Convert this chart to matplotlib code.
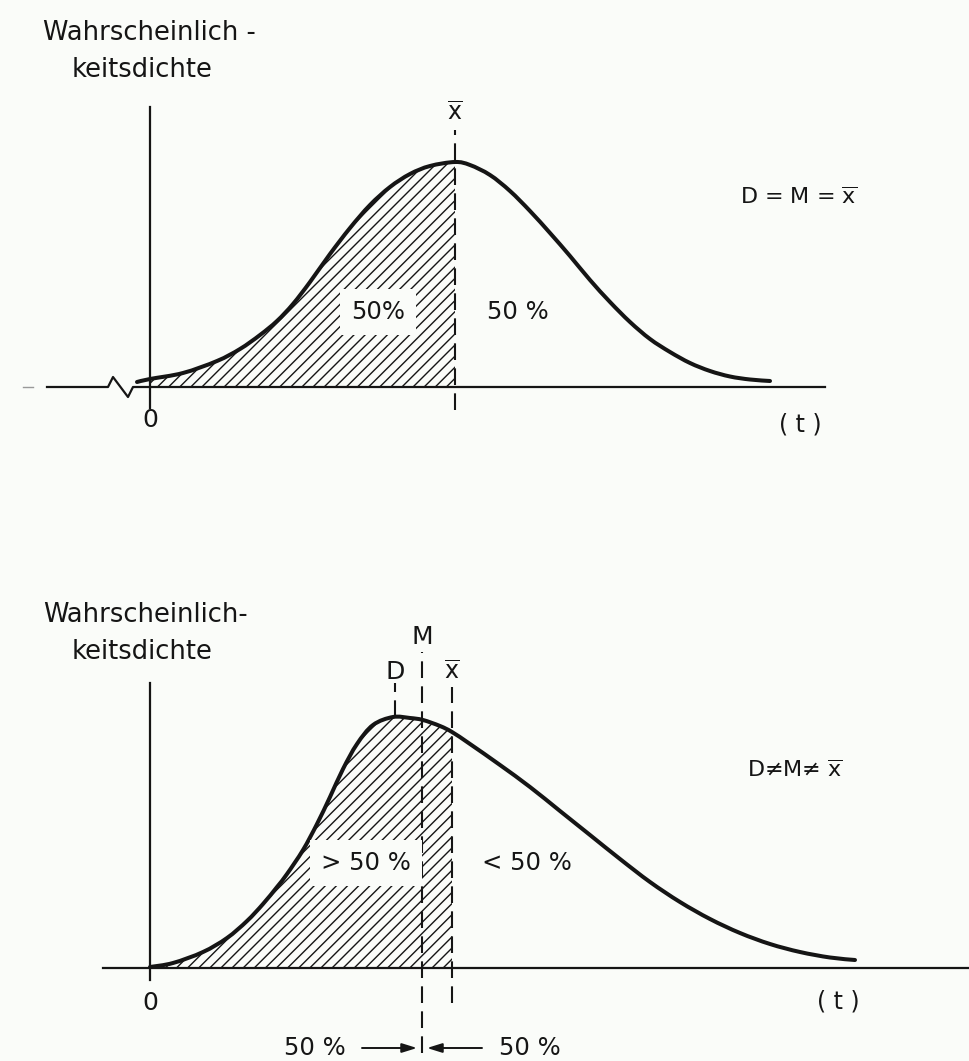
import matplotlib.pyplot as plt
from matplotlib.path import Path
from matplotlib.patches import PathPatch
import numpy as np

# --- Data (t in arbitrary time units, density in arbitrary units) ---
# Top: symmetric distribution, D = M = mean
top_t = [-0.13, 0.0, 0.33, 0.67, 0.90, 1.10, 1.27, 1.43, 1.60, 1.80, 2.00, 2.20, 2.40, 2.60, 2.80, 3.05,
         3.20, 3.40, 3.60, 3.80, 4.00, 4.20, 4.40, 4.60, 4.80, 5.00, 5.20, 5.40, 5.60, 5.80, 6.00, 6.20]
top_f = [0.05, 0.08, 0.14, 0.26, 0.38, 0.52, 0.66, 0.83, 1.05, 1.33, 1.59, 1.82, 2.00, 2.13, 2.21, 2.25,
         2.22, 2.12, 1.96, 1.76, 1.54, 1.31, 1.07, 0.85, 0.65, 0.48, 0.35, 0.24, 0.16, 0.105, 0.075, 0.06]
top_mean = 3.05

# Bottom: right-skewed distribution, D < M < mean
bot_t = [0.0, 0.23, 0.53, 0.77, 0.97, 1.13, 1.27, 1.37, 1.53, 1.67, 1.80, 1.93, 2.07, 2.23, 2.43, 2.60,
         2.73, 2.90, 3.02, 3.20, 3.50, 3.80, 4.10, 4.40, 4.70, 5.00, 5.30, 5.60, 5.90, 6.20, 6.50, 6.80, 7.05]
bot_f = [0.01, 0.05, 0.16, 0.30, 0.47, 0.64, 0.81, 0.94, 1.18, 1.44, 1.71, 1.99, 2.24, 2.43, 2.51, 2.50,
         2.48, 2.42, 2.36, 2.24, 2.03, 1.81, 1.57, 1.33, 1.09, 0.86, 0.66, 0.49, 0.35, 0.24, 0.16, 0.105, 0.08]
bot_mode = 2.45
bot_median = 2.72
bot_mean = 3.02

XBAR = r"$\overline{\mathrm{x}}$"

INK = '#151515'
BG = '#fafcf9'
DASH = (0, (8, 4))

plt.rcParams['font.family'] = ['DejaVu Sans']
plt.rcParams['hatch.linewidth'] = 1.0
plt.rcParams['hatch.color'] = INK


def bezier_segments(t, f):
    # smooth cubic segments through the read points
    p = np.column_stack([t, f])
    ext = np.vstack([p[0], p, p[-1]])
    segs = []
    for i in range(len(p) - 1):
        p0, p1, p2, p3 = ext[i], ext[i + 1], ext[i + 2], ext[i + 3]
        segs.append((p1, p1 + (p2 - p0) / 6, p2 - (p3 - p1) / 6, p2))
    return segs


def curve_path(segs):
    verts = [segs[0][0]]
    codes = [Path.MOVETO]
    for _, c1, c2, end in segs:
        verts += [c1, c2, end]
        codes += [Path.CURVE4] * 3
    return verts, codes


def draw_curve(ax, t, f, lo, hi):
    segs = bezier_segments(t, f)
    verts, codes = curve_path(segs)
    ax.add_patch(PathPatch(Path(verts, codes), facecolor='none', edgecolor=INK,
                           lw=2.9, capstyle='round', zorder=3))
    # hatched area under the curve between lo and hi
    part = [s for s in segs if s[0][0] >= lo - 1e-9 and s[3][0] <= hi + 1e-9]
    verts, codes = curve_path(part)
    verts += [(hi, 0), (lo, 0), (lo, 0)]
    codes += [Path.LINETO, Path.LINETO, Path.CLOSEPOLY]
    ax.add_patch(PathPatch(Path(verts, codes), facecolor='none', edgecolor=INK,
                           hatch='///', lw=0, zorder=1))


def axis_title(ax, y0, first):
    ax.text(-1.07, y0, first, fontsize=18.5, color=INK, ha='left', va='center')
    ax.text(-0.78, y0 - 0.37, "keitsdichte", fontsize=18.5, color=INK, ha='left', va='center')


def boxed(ax, x, y, s):
    ax.text(x, y, s, fontsize=17.5, color=INK, ha='center', va='center', zorder=4,
            bbox=dict(facecolor=BG, edgecolor='none', pad=8))


fig = plt.figure(figsize=(9.7, 10.61), dpi=100, facecolor=BG)

# ---------------- top panel ----------------
ax = fig.add_axes([0, 1 - 530 / 1061, 1, 530 / 1061])
ax.set_xlim(-1.5, 8.2)
ax.set_ylim(-1.43, 3.87)
ax.axis('off')

draw_curve(ax, top_t, top_f, 0.0, top_mean)

# axes with break symbol on the left
ax.plot([-1.27, -1.17], [0, 0], color='#999999', lw=1.0)
ax.plot([-1.03, -0.42, -0.37, -0.22, -0.17, 6.75], [0, 0, 0.10, -0.10, 0, 0], color=INK, lw=1.6)
ax.plot([0, 0], [-0.21, 2.80], color=INK, lw=1.6)
ax.plot([top_mean, top_mean], [-0.23, 2.57], color=INK, lw=1.5, linestyle=DASH)

axis_title(ax, 3.54, "Wahrscheinlich -")
ax.text(top_mean, 2.74, XBAR, fontsize=17, color=INK, ha='center', va='center')
ax.text(0, -0.33, "0", fontsize=18, color=INK, ha='center', va='center')
ax.text(6.5, -0.38, "( t )", fontsize=17, color=INK, ha='center', va='center')
boxed(ax, 2.28, 0.75, "50%")
ax.text(3.68, 0.75, "50 %", fontsize=17.5, color=INK, ha='center', va='center')
ax.text(5.9, 1.90, "D = M = " + XBAR, fontsize=16, color=INK, ha='left', va='center')

# ---------------- bottom panel ----------------
ax = fig.add_axes([0, 0, 1, 531 / 1061])
ax.set_xlim(-1.5, 8.2)
ax.set_ylim(-0.93, 4.38)
ax.axis('off')

draw_curve(ax, bot_t, bot_f, 0.0, bot_mean)

ax.plot([-0.47, 8.2], [0, 0], color=INK, lw=1.6, clip_on=False)
ax.plot([0, 0], [-0.12, 2.85], color=INK, lw=1.6)
ax.plot([bot_mode, bot_mode], [2.51, 2.85], color=INK, lw=1.5, linestyle=DASH)
ax.plot([bot_median, bot_median], [-0.85, 3.16], color=INK, lw=1.5, linestyle=DASH)
ax.plot([bot_mean, bot_mean], [-0.35, 2.81], color=INK, lw=1.5, linestyle=DASH)

axis_title(ax, 3.53, "Wahrscheinlich-")
ax.text(bot_mode, 2.96, "D", fontsize=18, color=INK, ha='center', va='center')
ax.text(bot_median, 3.31, "M", fontsize=18, color=INK, ha='center', va='center')
ax.text(bot_mean, 2.96, XBAR, fontsize=17, color=INK, ha='center', va='center')
ax.text(0, -0.35, "0", fontsize=18, color=INK, ha='center', va='center')
ax.text(6.88, -0.34, "( t )", fontsize=17, color=INK, ha='center', va='center')
boxed(ax, 2.16, 1.05, "> 50 %")
ax.text(3.77, 1.05, "< 50 %", fontsize=17.5, color=INK, ha='center', va='center')
ax.text(5.97, 1.98, "D\u2260M\u2260 " + XBAR, fontsize=16, color=INK, ha='left', va='center')

# 50 % | 50 % arrows pointing at the median
arrow = dict(arrowstyle='-|>,head_length=0.9,head_width=0.28', color=INK, lw=1.4,
             shrinkA=0, shrinkB=0)
ax.annotate('', xy=(bot_median - 0.05, -0.80), xytext=(bot_median - 0.60, -0.80), arrowprops=arrow)
ax.annotate('', xy=(bot_median + 0.05, -0.80), xytext=(bot_median + 0.60, -0.80), arrowprops=arrow)
ax.text(1.65, -0.80, "50 %", fontsize=17.5, color=INK, ha='center', va='center')
ax.text(3.80, -0.80, "50 %", fontsize=17.5, color=INK, ha='center', va='center')

plt.savefig("out.png", dpi=100, facecolor=BG)
plt.close()
